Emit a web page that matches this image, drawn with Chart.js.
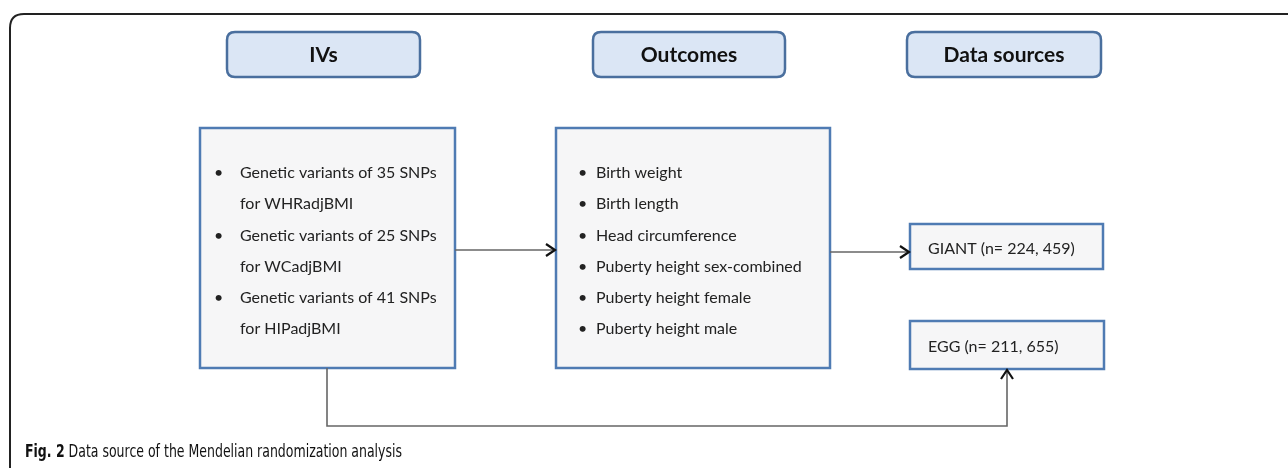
<!DOCTYPE html>
<html>
<head>
<meta charset="utf-8">
<script src="https://cdn.jsdelivr.net/npm/chart.js@4.4.1/dist/chart.umd.min.js"></script>
<style>
  html, body { margin: 0; padding: 0; background: #fff; }
  canvas { display: block; }
</style>
</head>
<body>
<canvas id="flow" width="1288" height="468"></canvas>
<script>
// diagram content
const headers = ["IVs", "Outcomes", "Data sources"];
const ivItems = [
  ["Genetic variants of 35 SNPs", "for WHRadjBMI"],
  ["Genetic variants of 25 SNPs", "for WCadjBMI"],
  ["Genetic variants of 41 SNPs", "for HIPadjBMI"]
];
const outcomeItems = [
  "Birth weight",
  "Birth length",
  "Head circumference",
  "Puberty height sex-combined",
  "Puberty height female",
  "Puberty height male"
];
const sources = ["GIANT (n= 224, 459)", "EGG (n= 211, 655)"];
const captionBold = "Fig. 2";
const captionText = " Data source of the Mendelian randomization analysis";

// layout (page pixels, mapped through the hidden linear scales)
const layout = {
  heads: [[227, 32, 193, 45], [593, 32, 192, 45], [907, 32, 194, 45]],
  ivBox: [200, 128, 255, 240],
  outBox: [556, 128, 274, 240],
  srcBoxes: [[910, 224, 193, 45], [910, 321, 194, 48]],
  lineY0: 173,
  lineStep: 31.2
};

const links = [
  [{x: 455, y: 250}, {x: 555, y: 250}],
  [{x: 830, y: 252}, {x: 909, y: 252}],
  [{x: 327, y: 368}, {x: 327, y: 426}, {x: 1007, y: 426}, {x: 1007, y: 370}]
];

const BODY_FONT = "16px Lato, 'Open Sans', sans-serif";
const HEAD_FONT = "bold 21px Lato, 'Open Sans', sans-serif";
const CAP_FONT = "'DejaVu Sans Condensed', 'Liberation Sans', sans-serif";

function rr(ctx, x, y, w, h, r) {
  ctx.beginPath();
  ctx.moveTo(x + r, y);
  ctx.lineTo(x + w - r, y);
  ctx.quadraticCurveTo(x + w, y, x + w, y + r);
  ctx.lineTo(x + w, y + h - r);
  ctx.quadraticCurveTo(x + w, y + h, x + w - r, y + h);
  ctx.lineTo(x + r, y + h);
  ctx.quadraticCurveTo(x, y + h, x, y + h - r);
  ctx.lineTo(x, y + r);
  ctx.quadraticCurveTo(x, y, x + r, y);
  ctx.closePath();
}

const diagram = {
  id: "diagram",
  beforeDatasetsDraw(chart) {
    const ctx = chart.ctx;
    const sx = chart.scales.x, sy = chart.scales.y;
    const px = v => sx.getPixelForValue(v);
    const py = v => sy.getPixelForValue(v);
    const rect = (b) => [px(b[0]), py(b[1]), px(b[0] + b[2]) - px(b[0]), py(b[1] + b[3]) - py(b[1])];

    ctx.save();
    // outer frame
    ctx.strokeStyle = "#222";
    ctx.lineWidth = 2;
    ctx.beginPath();
    ctx.moveTo(px(10), py(470));
    ctx.lineTo(px(10), py(28));
    ctx.quadraticCurveTo(px(10), py(14), px(24), py(14));
    ctx.lineTo(px(1290), py(14));
    ctx.stroke();

    // header boxes
    headers.forEach((h, i) => {
      const [x, y, w, hh] = rect(layout.heads[i]);
      rr(ctx, x, y, w, hh, 8);
      ctx.fillStyle = "#dbe6f5";
      ctx.fill();
      ctx.strokeStyle = "#4a6f9e";
      ctx.lineWidth = 2.5;
      ctx.stroke();
      ctx.fillStyle = "#111";
      ctx.font = HEAD_FONT;
      ctx.textAlign = "center";
      ctx.textBaseline = "middle";
      ctx.fillText(h, x + w / 2, y + hh / 2 + 1);
    });

    // content boxes
    [layout.ivBox, layout.outBox].concat(layout.srcBoxes).forEach(b => {
      const [x, y, w, hh] = rect(b);
      ctx.fillStyle = "#f6f6f7";
      ctx.fillRect(x, y, w, hh);
      ctx.strokeStyle = "#4f7bb3";
      ctx.lineWidth = 2.5;
      ctx.strokeRect(x, y, w, hh);
    });

    ctx.fillStyle = "#222";
    ctx.font = BODY_FONT;
    ctx.textAlign = "left";
    ctx.textBaseline = "middle";

    // IV list
    let row = 0;
    ivItems.forEach(item => {
      item.forEach((t, j) => {
        const y = py(layout.lineY0 + row * layout.lineStep);
        if (j === 0) ctx.fillText("\u2022", px(214), y);
        ctx.fillText(t, px(240), y);
        row++;
      });
    });

    // outcome list
    outcomeItems.forEach((t, i) => {
      const y = py(layout.lineY0 + i * layout.lineStep);
      ctx.fillText("\u2022", px(578), y);
      ctx.fillText(t, px(596), y);
    });

    // sources
    sources.forEach((t, i) => {
      const [x, y, w, hh] = rect(layout.srcBoxes[i]);
      ctx.fillText(t, x + 18, y + hh / 2 + 2);
    });

    // caption, squeezed to the narrow figure font width
    ctx.textBaseline = "alphabetic";
    ctx.fillStyle = "#111";
    ctx.font = "bold 17px " + CAP_FONT;
    const bw = ctx.measureText(captionBold).width;
    ctx.font = "17px " + CAP_FONT;
    const tw = ctx.measureText(captionText).width;
    const k = 377 / (bw + tw);
    ctx.save();
    ctx.translate(px(25), py(457));
    ctx.scale(k, 1);
    ctx.font = "bold 17px " + CAP_FONT;
    ctx.fillText(captionBold, 0, 0);
    ctx.font = "17px " + CAP_FONT;
    ctx.fillText(captionText, bw, 0);
    ctx.restore();
    ctx.restore();
  },
  afterDatasetsDraw(chart) {
    const ctx = chart.ctx;
    ctx.save();
    ctx.strokeStyle = "#111";
    ctx.lineWidth = 2.2;
    chart.data.datasets.forEach((ds, i) => {
      const pts = chart.getDatasetMeta(i).data;
      const a = pts[pts.length - 2], b = pts[pts.length - 1];
      const ang = Math.atan2(b.y - a.y, b.x - a.x);
      const L = 9, W = 6;
      ctx.beginPath();
      ctx.moveTo(b.x - L * Math.cos(ang) + W * Math.sin(ang), b.y - L * Math.sin(ang) - W * Math.cos(ang));
      ctx.lineTo(b.x, b.y);
      ctx.lineTo(b.x - L * Math.cos(ang) - W * Math.sin(ang), b.y - L * Math.sin(ang) + W * Math.cos(ang));
      ctx.stroke();
    });
    ctx.restore();
  }
};

new Chart(document.getElementById("flow"), {
  type: "scatter",
  data: {
    datasets: links.map(pts => ({
      data: pts,
      showLine: true,
      borderColor: "#666",
      borderWidth: 1.6,
      pointRadius: 0,
      tension: 0
    }))
  },
  options: {
    responsive: false,
    animation: false,
    events: [],
    layout: { padding: 0 },
    scales: {
      x: { type: "linear", min: 0, max: 1288, display: false },
      y: { type: "linear", min: 0, max: 468, reverse: true, display: false }
    },
    plugins: { legend: { display: false }, tooltip: { enabled: false } }
  },
  plugins: [diagram]
});
</script>
</body>
</html>
